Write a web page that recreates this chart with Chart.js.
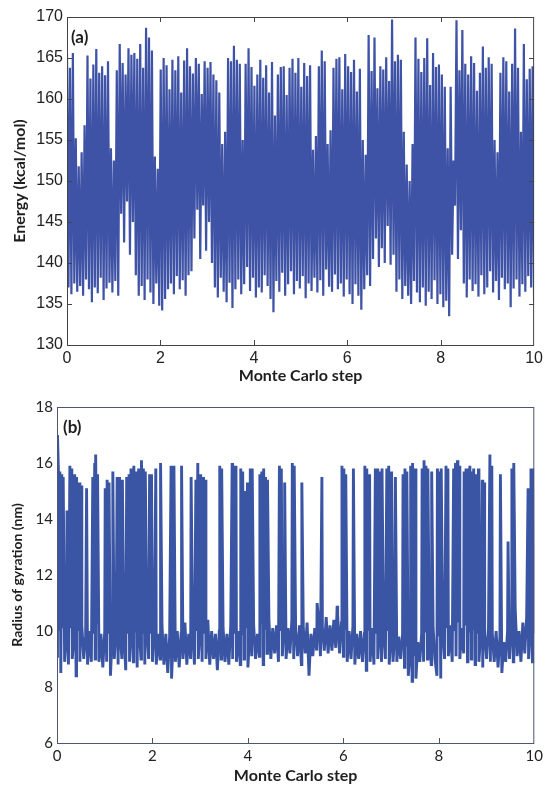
<!DOCTYPE html>
<html>
<head>
<meta charset="utf-8">
<script src="https://cdn.jsdelivr.net/npm/chart.js@4.4.1/dist/chart.umd.min.js"></script>
<style>
  html, body { margin: 0; padding: 0; background: #fff; }
  #wrap { position: relative; width: 547px; height: 785px; }
  canvas { position: absolute; left: 0; }
  #energyChart { top: 0; }
  #rgChart { top: 390px; }
</style>
</head>
<body>
<div id="wrap">
  <canvas id="energyChart" width="547" height="390"></canvas>
  <canvas id="rgChart" width="547" height="395"></canvas>
</div>
<script>
// panel (a): energy, read as successive peaks and dips along the run
const energyPeaks = [
  165.5, 163.8, 165.6,
  155.2, 151.8, 153.5, 156.8,
  165.3, 162.5, 164.2, 166.1, 163.2, 164.0, 162.9, 164.6,
  154.0, 152.5,
  163.5, 166.7, 164.4, 163.0, 166.2, 165.4, 165.6, 164.9, 166.7, 163.8, 168.7, 167.5, 165.9,
  153.0, 151.5,
  163.6, 165.0, 164.1, 161.2, 164.8, 163.5, 165.2, 160.8, 164.7, 166.2, 164.0, 163.1, 165.0, 164.3, 160.6, 164.6, 163.8, 164.5, 163.0, 162.3, 160.8,
  154.5, 156.0,
  165.0, 164.6, 166.5, 164.8, 164.3,
  155.0,
  164.3, 166.2, 163.9, 161.6, 163.0, 164.8, 162.6, 164.1, 160.8, 164.5,
  158.0, 163.0,
  163.9, 164.0, 160.5, 163.8, 164.9, 163.2, 165.0, 161.5, 164.4, 162.8, 164.1,
  153.8, 155.5,
  164.0, 165.9, 164.6,
  154.5, 156.2,
  163.8, 164.9, 165.1, 161.2, 165.5, 164.0, 163.3, 164.8, 160.9, 163.7,
  155.0, 153.2,
  167.8, 163.4, 167.5, 161.3, 164.0, 163.6, 165.1, 162.2, 169.7, 164.6, 165.4, 164.8,
  156.0, 152.0, 150.0, 154.5,
  167.5, 164.9, 163.3, 165.0, 167.4, 161.7, 165.6, 163.9, 164.2, 163.0, 161.5,
  154.0, 161.5, 152.5,
  169.6, 163.5, 168.4, 164.3,
  163.0, 165.2, 164.4, 161.0, 163.2, 166.4, 163.8, 165.1, 164.3, 155.0, 153.5, 163.2,
  165.1, 164.6, 160.9, 164.3, 168.6, 163.8, 156.0, 166.7, 162.4, 163.7, 164.0
];
const energyDips = [
  137.0, 136.2, 137.5,
  136.5, 137.2, 136.0, 138.0, 136.8, 135.2, 137.0, 136.3, 138.2, 135.5, 136.9, 137.6,
  136.4, 137.8, 136.0,
  146.0, 142.5, 147.5, 141.0, 145.0,
  138.5, 136.0, 137.2, 135.5, 138.0, 136.4, 135.0, 137.5, 134.8, 134.2, 135.6, 136.8,
  137.5, 136.2, 138.4, 136.8, 137.9, 136.0, 138.5, 139.0,
  143.0, 146.5, 140.5, 147.0, 141.5, 145.0, 140.0,
  137.0, 135.8, 138.2, 136.5, 135.2, 137.6, 134.5,
  136.8, 138.0, 136.2, 137.4, 139.5, 136.6, 138.2, 135.8, 137.0, 136.4, 138.5, 137.2, 135.6, 134.0,
  137.8, 136.5, 138.8, 136.0, 137.4, 139.0, 136.2, 137.8, 136.9, 138.4, 135.7, 137.5, 136.6,
  138.2, 136.4, 137.9, 136.0, 139.2, 137.1, 136.5, 138.6, 136.8, 137.5, 135.9, 138.0,
  136.2, 135.0, 137.4, 136.0, 134.3, 136.8, 138.5, 137.2,
  140.5, 143.0, 139.5, 141.8, 140.0, 144.5, 139.8, 141.0,
  136.5, 138.0, 135.6, 137.2, 136.0, 135.0, 137.8, 136.4, 135.2, 137.0,
  134.8, 136.5, 135.6, 137.9, 135.0, 136.2, 134.6, 135.4, 133.5,
  141.0, 147.0, 140.5, 144.0,
  137.5, 135.8, 138.0, 136.6, 137.4, 135.9, 138.5, 136.2, 137.0, 139.0, 136.4, 137.8, 135.5,
  138.2, 136.8, 137.5, 134.6, 136.9, 138.0, 135.9, 137.4, 136.5, 138.4, 137.0, 135.2
];

// panel (b): radius of gyration, baseline read every 0.04 step
const gyrationBase = [
  9.1, 10.0, 8.5, 10.1, 8.9, 9.9, 8.8, 10.1, 9.0, 9.9,
  8.4, 10.0, 8.9, 10.2, 9.0, 9.8, 8.8, 10.0, 8.9, 9.9,
  9.0, 10.3, 8.9, 9.9, 8.7,
  10.0, 8.9, 9.9, 8.4, 10.0, 9.0, 10.1, 8.8, 9.9, 9.0,
  10.0, 8.6, 9.9, 8.9, 10.2, 8.9, 10.0, 8.7, 10.1, 9.0,
  9.9, 8.8, 10.1, 9.0, 9.9,
  8.9, 10.0, 8.8, 9.9, 9.0, 10.2, 8.8, 9.9, 8.5, 9.8,
  8.3, 10.0, 8.9, 10.0, 8.7, 9.9, 9.0, 10.3, 8.8, 9.9,
  9.0, 10.0, 8.8, 10.0, 9.0,
  10.2, 8.9, 9.9, 9.0, 10.4, 8.8, 10.0, 9.0, 9.9, 8.6,
  10.0, 9.0, 10.1, 8.9, 9.9, 8.8, 10.2, 9.0, 9.9, 8.9,
  10.0, 8.8, 9.9, 9.0, 10.1,
  8.7, 10.0, 9.1, 10.2, 9.0, 9.9, 9.1, 10.3, 8.8, 10.1,
  9.2, 10.4, 9.0, 10.1, 9.2, 10.2, 8.9, 10.0, 9.1, 10.3,
  9.0, 10.1, 9.2, 10.4, 9.0,
  10.0, 9.1, 10.2, 8.8, 10.1, 9.2, 10.3, 8.4, 9.9, 9.1,
  10.1, 9.3, 10.4, 9.1, 10.1, 9.3, 10.5, 9.2, 10.2, 9.3,
  10.4, 9.4, 10.6, 9.2, 10.3,
  9.1, 10.1, 8.9, 10.0, 9.0, 10.2, 8.8, 9.9, 9.0, 10.0,
  8.9, 9.9, 8.6, 10.0, 8.9, 10.1, 8.8, 9.9, 9.0, 10.2,
  8.9, 10.0, 9.0, 10.0, 8.8,
  9.9, 8.9, 10.0, 8.9, 9.8, 9.0, 9.9, 8.7, 9.5, 8.4,
  9.3, 8.2, 9.1, 8.3, 9.6, 8.9, 9.9, 8.9, 10.0, 9.0,
  9.9, 8.8, 10.1, 9.0, 8.4,
  9.8, 8.3, 10.0, 9.0, 10.1, 9.1, 10.2, 8.9, 10.0, 9.1,
  10.3, 9.0, 10.1, 9.2, 10.2, 8.9, 10.0, 9.0, 10.1, 8.8,
  9.9, 8.9, 10.0, 8.7, 9.9,
  9.0, 10.1, 8.9, 9.9, 8.9, 10.0, 8.7, 9.8, 8.5, 9.6,
  8.9, 10.0, 9.0, 10.2, 8.9, 10.8, 9.1, 10.0, 8.9, 10.3,
  9.2, 10.5, 9.0, 10.2, 8.9, 9.9
];
// jumps to the extended state: where each one sits and how high it goes
const jumpSteps = [
  0.01, 0.03, 0.06, 0.10, 0.13, 0.21, 0.27, 0.31, 0.37, 0.41,
  0.47, 0.51, 0.62, 0.75, 0.79, 0.81, 0.85, 1.01, 1.05, 1.09,
  1.17, 1.26, 1.31, 1.37, 1.46, 1.51, 1.55, 1.61, 1.65, 1.71,
  1.77, 1.81, 1.85, 1.94, 1.98, 2.07, 2.17, 2.39, 2.45, 2.61,
  2.81, 2.91, 2.95, 3.01, 3.07, 3.11, 3.41, 3.45, 3.67, 3.71,
  3.75, 3.85, 3.89, 3.93, 3.99, 4.05, 4.09, 4.25, 4.29, 4.33,
  4.37, 4.41, 4.66, 4.70, 4.77, 4.93, 4.97, 5.13, 5.45, 5.55,
  5.87, 5.97, 6.01, 6.05, 6.21, 6.45, 6.49, 6.55, 6.67, 6.71,
  6.75, 6.81, 6.91, 6.95, 7.01, 7.09, 7.25, 7.29, 7.33, 7.41,
  7.45, 7.51, 7.65, 7.69, 7.73, 7.77, 7.85, 7.97, 8.01, 8.05,
  8.15, 8.19, 8.31, 8.35, 8.39, 8.43, 8.53, 8.57, 8.61, 8.65,
  8.69, 8.73, 8.77, 8.83, 8.91, 8.95, 9.07, 9.11, 9.29, 9.45,
  9.53, 9.57, 9.87, 9.93, 9.97
];
const jumpHeights = [
  17.0, 15.7, 15.7, 15.6, 15.5, 14.3, 15.9, 15.8, 15.6, 15.5,
  15.3, 15.2, 15.1, 15.5, 16.0, 16.3, 15.6, 15.1, 15.4, 15.3,
  15.7, 15.5, 15.5, 15.4, 15.5, 15.6, 15.8, 15.9, 15.7, 15.8,
  16.1, 15.8, 15.7, 15.6, 15.6, 15.8, 16.0, 15.9, 15.9, 15.9,
  15.5, 15.4, 16.0, 15.6, 15.5, 15.4, 15.9, 15.8, 16.0, 15.9,
  15.9, 15.8, 15.7, 15.0, 15.3, 15.8, 15.8, 15.6, 15.7, 15.8,
  15.5, 15.4, 15.9, 15.8, 15.3, 16.0, 15.9, 15.3, 11.0, 15.5,
  10.9, 15.9, 15.8, 15.6, 15.8, 15.9, 15.8, 15.6, 15.8, 15.8,
  15.7, 15.8, 15.8, 15.9, 15.7, 15.5, 15.6, 15.8, 15.7, 15.9,
  16.0, 15.8, 15.8, 16.1, 15.9, 15.8, 15.7, 15.8, 15.7, 15.8,
  15.9, 15.8, 15.8, 16.0, 16.1, 15.9, 15.7, 15.8, 15.8, 15.9,
  15.7, 15.8, 15.6, 15.8, 15.4, 15.3, 16.3, 15.9, 15.6, 13.2,
  15.8, 16.0, 15.1, 15.8, 15.8
];

const stepTicks = [0, 2, 4, 6, 8, 10];
const energyTicks = [130, 135, 140, 145, 150, 155, 160, 165, 170];
const gyrationTicks = [6, 8, 10, 12, 14, 16, 18];

const energyPoints = [];
const energyStep = 10 / (energyPeaks.length * 2 - 1);
for (let j = 0; j < energyPeaks.length; j++) {
  energyPoints.push({ x: 2 * j * energyStep, y: energyPeaks[j] });
  energyPoints.push({ x: (2 * j + 1) * energyStep, y: energyDips[j] });
}

// baseline readings and jump readings, merged in step order
const gyrationPoints = gyrationBase
  .map((v, i) => ({ x: i * 10 / (gyrationBase.length - 1), y: v }))
  .concat(jumpSteps.map((s, i) => ({ x: s, y: jumpHeights[i] })))
  .sort((a, b) => a.x - b.x);

// box round the plot, inward ticks and the panel letter
const frame = {
  id: "frame",
  afterDraw(chart, args, opts) {
    const { ctx, chartArea: a, scales } = chart;
    ctx.save();
    ctx.lineWidth = 1;
    ctx.strokeStyle = opts.color;
    ctx.strokeRect(a.left + 0.5, a.top + 0.5, a.right - a.left - 1, a.bottom - a.top);
    ctx.beginPath();
    stepTicks.slice(1, -1).forEach((t) => {
      const px = Math.round(scales.x.getPixelForValue(t)) + 0.5;
      ctx.moveTo(px, a.bottom);
      ctx.lineTo(px, a.bottom - 5);
      if (opts.topTicks) {
        ctx.moveTo(px, a.top);
        ctx.lineTo(px, a.top + 5);
      }
    });
    if (opts.sideTicks) {
      opts.sideTicks.forEach((t) => {
        const py = Math.round(scales.y.getPixelForValue(t)) + 0.5;
        ctx.moveTo(a.left, py);
        ctx.lineTo(a.left + 5, py);
        ctx.moveTo(a.right, py);
        ctx.lineTo(a.right - 5, py);
      });
    }
    ctx.stroke();
    ctx.fillStyle = "#1e1e1e";
    ctx.font = "bold 17px Lato";
    ctx.textBaseline = "middle";
    ctx.fillText(opts.letter, a.left + opts.dx, a.top + 21);
    ctx.restore();
  },
};

function makeChart(id, points, lineColor, lineWidth, yMin, yMax, yTickVals, yTitle, opts) {
  return new Chart(document.getElementById(id), {
    type: "line",
    data: {
      datasets: [
        {
          data: points,
          borderColor: lineColor,
          borderWidth: lineWidth,
          borderJoinStyle: "miter",
          pointRadius: 0,
          tension: 0,
          fill: false,
        },
      ],
    },
    options: {
      responsive: false,
      animation: false,
      events: [],
      layout: { padding: { top: 17, right: 7, left: 0, bottom: 0 } },
      plugins: { legend: { display: false }, tooltip: { enabled: false }, frame: opts.frame },
      scales: {
        x: {
          type: "linear",
          min: 0,
          max: 10,
          afterFit: (s) => { s.height = opts.xHeight; },
          afterBuildTicks: (s) => { s.ticks = stepTicks.map((v) => ({ value: v })); },
          grid: { display: false, drawTicks: false },
          border: { display: false },
          ticks: { padding: opts.xPad, color: "#222", font: opts.tickFont },
          title: {
            display: true,
            text: "Monte Carlo step",
            color: "#1e1e1e",
            font: { family: "Lato", weight: "bold", size: 16 },
            padding: { top: 0, bottom: opts.xTitlePad },
          },
        },
        y: {
          min: yMin,
          max: yMax,
          afterFit: (s) => { s.width = opts.yWidth; },
          afterBuildTicks: (s) => { s.ticks = yTickVals.map((v) => ({ value: v })); },
          grid: { display: false, drawTicks: false },
          border: { display: false },
          ticks: { padding: 4, color: "#222", font: opts.tickFont },
          title: {
            display: true,
            text: yTitle,
            color: "#1e1e1e",
            font: { family: "Lato", weight: "bold", size: opts.yTitleSize },
            padding: { top: opts.yTitlePad, bottom: 0 },
          },
        },
      },
    },
    plugins: [frame],
  });
}

makeChart("energyChart", energyPoints, "rgb(62, 82, 166)", 2.2, 130, 170, energyTicks,
  "Energy (kcal/mol)", {
    xHeight: 45, yWidth: 67, xPad: 4, xTitlePad: 5, yTitlePad: 10, yTitleSize: 16,
    tickFont: { family: "Liberation Sans", size: 16 },
    frame: { color: "#444", topTicks: true, sideTicks: [135, 140, 145, 150, 155, 160, 165], letter: "(a)", dx: 4 },
  });

makeChart("rgChart", gyrationPoints, "rgb(59, 85, 165)", 2.9, 6, 18, gyrationTicks,
  "Radius of gyration (nm)", {
    xHeight: 42, yWidth: 57, xPad: 4, xTitlePad: 0, yTitlePad: 9, yTitleSize: 14,
    tickFont: { family: "Lato", size: 15 },
    frame: { color: "#4d5670", topTicks: false, sideTicks: null, letter: "(b)", dx: 6 },
  });
</script>
</body>
</html>
